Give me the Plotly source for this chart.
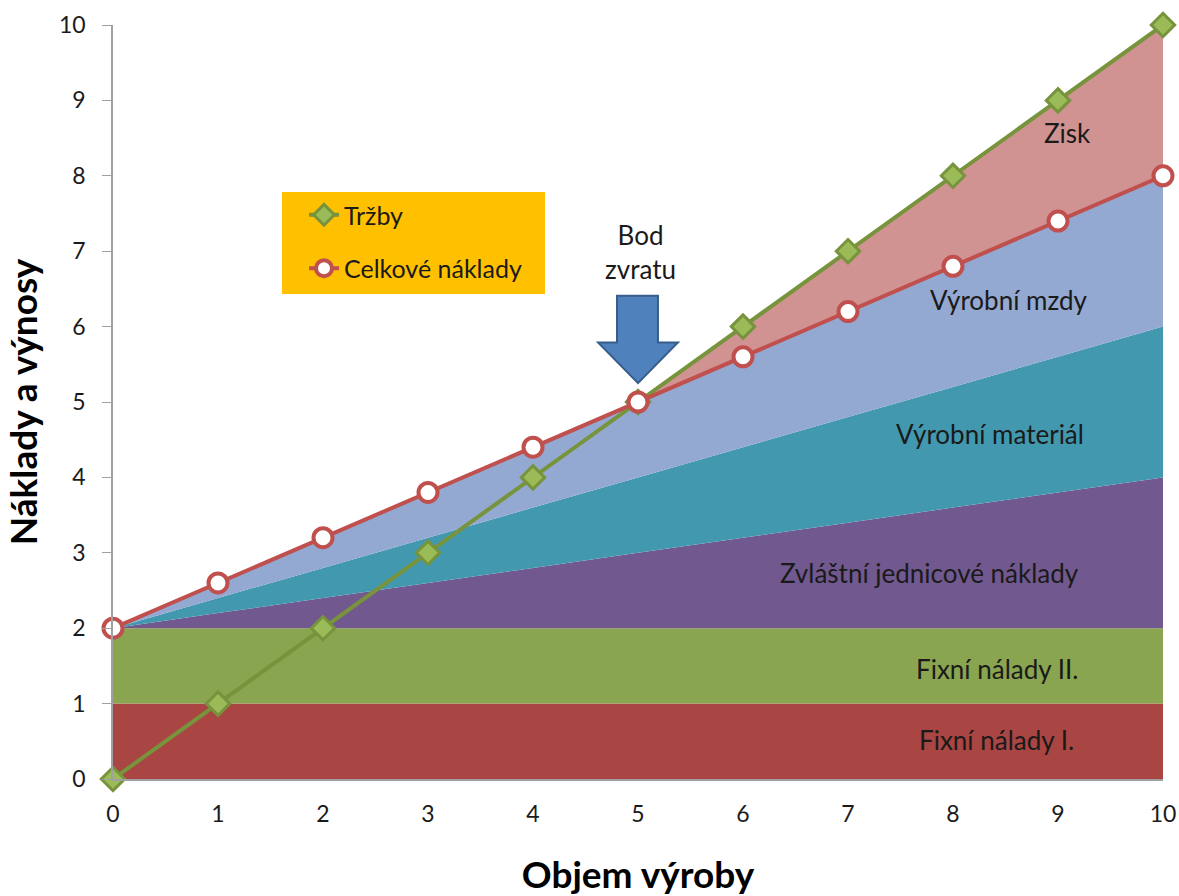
import plotly.graph_objects as go

objem = [0, 1, 2, 3, 4, 5, 6, 7, 8, 9, 10]
fixni_1 = [1, 1, 1, 1, 1, 1, 1, 1, 1, 1, 1]
fixni_2 = [1, 1, 1, 1, 1, 1, 1, 1, 1, 1, 1]
zvlastni = [0, 0.2, 0.4, 0.6, 0.8, 1.0, 1.2, 1.4, 1.6, 1.8, 2.0]
material = [0, 0.2, 0.4, 0.6, 0.8, 1.0, 1.2, 1.4, 1.6, 1.8, 2.0]
mzdy = [0, 0.2, 0.4, 0.6, 0.8, 1.0, 1.2, 1.4, 1.6, 1.8, 2.0]
zisk = [0, 0, 0, 0, 0, 0, 0.4, 0.8, 1.2, 1.6, 2.0]
trzby = [0, 1, 2, 3, 4, 5, 6, 7, 8, 9, 10]
celkove_naklady = [2, 2.6, 3.2, 3.8, 4.4, 5, 5.6, 6.2, 6.8, 7.4, 8]

FONT = "Lato"
TXT = "#1a1a1a"

fig = go.Figure()
areas = [
    ("Fixní nálady I.", fixni_1, "#A94542"),
    ("Fixní nálady II.", fixni_2, "#8AA54F"),
    ("Zvláštní jednicové náklady", zvlastni, "#71588F"),
    ("Výrobní materiál", material, "#4298AF"),
    ("Výrobní mzdy", mzdy, "#94A9D1"),
    ("Zisk", zisk, "#D19392"),
]
for name, vals, col in areas:
    fig.add_trace(go.Scatter(
        x=objem, y=vals, name=name, stackgroup="one", mode="none",
        fillcolor=col, line=dict(width=0), showlegend=False, hoverinfo="skip"))

fig.add_trace(go.Scatter(
    x=objem, y=trzby, name="Tržby", mode="lines+markers",
    legendgroup="a", legendrank=1,
    line=dict(color="#77933C", width=4),
    marker=dict(symbol="diamond", size=18, color="#9BBB59",
                line=dict(color="#77933C", width=3)),
    cliponaxis=False))
fig.add_trace(go.Scatter(
    x=objem, y=celkove_naklady, name="Celkové náklady", mode="lines+markers",
    legendgroup="b", legendrank=2,
    line=dict(color="#C0504D", width=4),
    marker=dict(symbol="circle", size=19, color="white",
                line=dict(color="#C0504D", width=4)),
    cliponaxis=False))

# arrow "Bod zvratu"
arrow_path = ("M 4.80 6.41 L 5.19 6.41 L 5.19 5.79 L 5.38 5.79 "
              "L 5.0 5.25 L 4.62 5.79 L 4.80 5.79 Z")
fig.add_shape(type="path", path=arrow_path, xref="x", yref="y",
              fillcolor="#4F81BD", line=dict(color="#385D8A", width=2))

PL, PT, PW, PH = 113, 25, 1050, 754

# legend background box
fig.add_shape(type="rect", xref="paper", yref="paper",
              x0=(282 - PL) / PW, x1=(545 - PL) / PW,
              y0=(PT + PH - 294) / PH, y1=(PT + PH - 192) / PH,
              fillcolor="#FFC000", line=dict(width=0), layer="above")

labels = [
    ("Zisk", 9.09, 8.57),
    ("Výrobní mzdy", 8.53, 6.35),
    ("Výrobní materiál", 8.35, 4.58),
    ("Zvláštní jednicové náklady", 7.78, 2.73),
    ("Fixní nálady II.", 8.42, 1.46),
    ("Fixní nálady I.", 8.41, 0.52),
]
for t, x, y in labels:
    fig.add_annotation(x=x, y=y, text=t, showarrow=False,
                       font=dict(family=FONT, size=26, color=TXT))
fig.add_annotation(x=5.02, y=6.52, text="Bod<br>zvratu", showarrow=False,
                   yanchor="bottom", align="center",
                   font=dict(family=FONT, size=26, color=TXT))

fig.update_layout(
    width=1179, height=896,
    margin=dict(l=PL, r=16, t=PT, b=117),
    plot_bgcolor="white", paper_bgcolor="white",
    font=dict(family=FONT, size=23, color=TXT),
    showlegend=True,
    legend=dict(x=(304 - PL) / PW, y=(PT + PH - 192) / PH,
                xanchor="left", yanchor="top",
                bgcolor="rgba(0,0,0,0)", traceorder="grouped",
                font=dict(family=FONT, size=25, color=TXT),
                tracegroupgap=18),
    xaxis=dict(range=[0, 10], tickmode="array", tickvals=objem,
               showgrid=False, zeroline=False, showline=True,
               linecolor="#A0A0A0", linewidth=1.5, ticks="outside",
               ticklen=14, tickcolor="rgba(0,0,0,0)", automargin=False,
               tickfont=dict(family=FONT, size=23, color=TXT),
               title=dict(text="<b>Objem výroby</b>",
                          font=dict(family=FONT, size=37, color="black"),
                          standoff=42)),
    yaxis=dict(range=[0, 10], tickmode="array",
               tickvals=[0, 1, 2, 3, 4, 5, 6, 7, 8, 9, 10],
               showgrid=False, zeroline=False, showline=True,
               linecolor="#A0A0A0", linewidth=1.5, ticks="outside",
               ticklen=9, tickcolor="#A0A0A0", automargin=False,
               ticklabelstandoff=12,
               tickfont=dict(family=FONT, size=23, color=TXT),
               title=dict(text="<b>Náklady a výnosy</b>",
                          font=dict(family=FONT, size=37, color="black"),
                          standoff=22)),
)

fig.write_html(
    "out.html",
    config={"displayModeBar": False},
    post_script="document.body.style.margin='0';"
                "document.body.style.overflow='hidden';",
)
